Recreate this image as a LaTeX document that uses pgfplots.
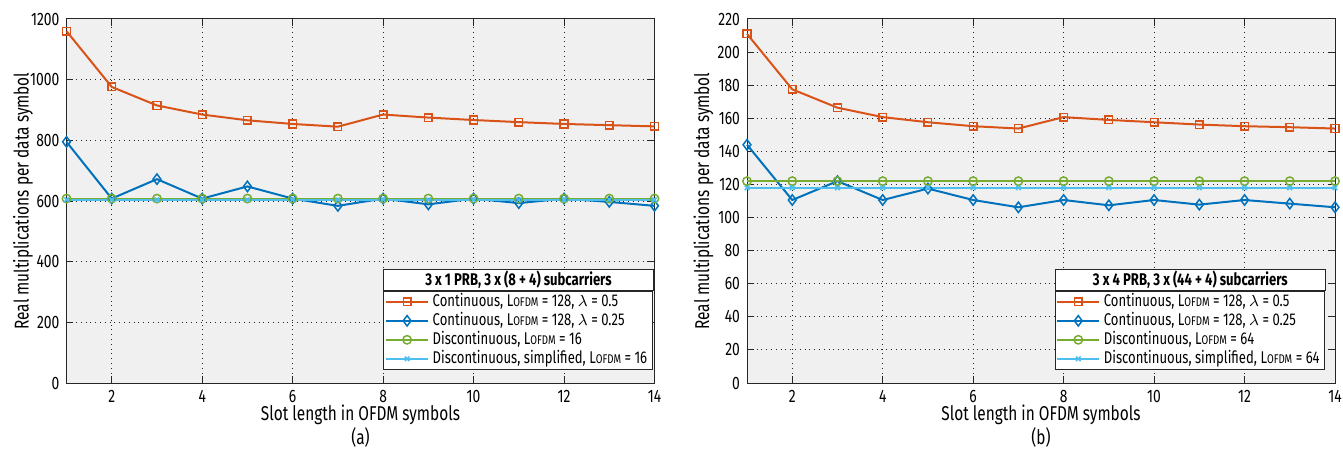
\documentclass[border=0pt]{standalone}
\usepackage{pgfplots}
\pgfplotsset{compat=1.18}
\usepackage{fontspec}
\setmainfont{Fira Sans}[FakeStretch=0.77]
\usetikzlibrary{calc}
\definecolor{mOrange}{rgb}{0.85,0.325,0.098}
\definecolor{mBlue}{rgb}{0,0.447,0.741}
\definecolor{mGreen}{rgb}{0.466,0.674,0.188}
\definecolor{mLight}{rgb}{0.301,0.745,0.933}
\definecolor{axgray}{rgb}{0.15,0.15,0.15}
\newcommand{\fs}{\fontsize{9}{11.2}\selectfont}
\newcommand{\fsl}{\fontsize{8.5}{10}\selectfont}
\newcommand{\Lofdm}{L{\fontsize{6.3}{6.3}\selectfont OFDM}}
\pgfplotsset{
  mstyle/.style={
    scale only axis, width=294pt, height=182pt,
    axis background/.style={fill=black!6},
    xmin=1, xmax=14, xtick={2,4,...,14},
    grid=major, major grid style={dotted, black!85, line width=0.5pt},
    axis line style={axgray, line width=0.5pt},
    tick style={axgray, line width=0.5pt},
    major tick length=3.5pt,
    tick align=inside,
    clip=false,
    /pgf/number format/assume math mode=true,
    /pgf/number format/set thousands separator={},
    tick label style={font=\fs},
    label style={font=\fs},
    every axis y label/.style={at={(rel axis cs:-0.074,0.5)}, rotate=90, anchor=center},
    every axis x label/.style={at={(rel axis cs:0.5,0)}, anchor=center, yshift=-21.5pt, align=center},
    legend cell align=left,
    legend style={at={(1,0)}, anchor=south east, yshift=6.5pt,
      draw=axgray, line width=0.5pt, font=\fsl, row sep=0pt, inner sep=0.6pt,
      nodes={text height=6.5pt, text depth=2.0pt, inner xsep=1.8pt, inner ysep=0.5pt}},
    legend image code/.code={\draw[mark repeat=2, mark phase=2, ##1] plot coordinates {(0pt,0pt)(10.5pt,0pt)(21pt,0pt)};},
    every axis plot/.append style={line width=1pt},
  },
  sOr/.style={mOrange, mark=square, mark size=1.9pt, mark options={solid, fill=white, line width=0.75pt}},
  sBl/.style={mBlue, mark=diamond, mark size=2.6pt, mark options={solid, fill=white, line width=0.75pt}},
  sGr/.style={mGreen, mark=o, mark size=2.1pt, mark options={solid, fill=white, line width=0.75pt}},
  sLb/.style={mLight, mark=x, mark size=1.6pt, mark options={solid, line width=0.75pt}},
}
\begin{document}
\begin{tikzpicture}
\useasboundingbox (-33.25pt,-33.5pt) rectangle (638.25pt,191.5pt);
\begin{axis}[mstyle, at={(0pt,0pt)},
  ymin=0, ymax=1200, ytick={0,200,...,1200},
  xlabel={Slot length in OFDM symbols\\(a)},
  ylabel={Real multiplications per data symbol},
  legend style={name=legA, xshift=-1pt}]
\addplot[sOr] coordinates {(1,1160)(2,976)(3,915)(4,885)(5,866)(6,854)(7,845)(8,885)(9,875)(10,867)(11,860)(12,854)(13,850)(14,846)};
\addlegendentry{Continuous, \Lofdm{} = 128, $\lambda$ = 0.5}
\addplot[sBl] coordinates {(1,795)(2,608)(3,672)(4,608)(5,648)(6,608)(7,584)(8,608)(9,589)(10,608)(11,593)(12,608)(13,597)(14,584)};
\addlegendentry{Continuous, \Lofdm{} = 128, $\lambda$ = 0.25}
\addplot[sGr] coordinates {(1,608)(2,608)(3,608)(4,608)(5,608)(6,608)(7,608)(8,608)(9,608)(10,608)(11,608)(12,608)(13,608)(14,608)};
\addlegendentry{Discontinuous, \Lofdm{} = 16}
\addplot[sLb] coordinates {(1,604)(2,604)(3,604)(4,604)(5,604)(6,604)(7,604)(8,604)(9,604)(10,604)(11,604)(12,604)(13,604)(14,604)};
\addlegendentry{Discontinuous, simplified, \Lofdm{} = 16}
\end{axis}
\begin{axis}[mstyle, at={(340.25pt,0pt)},
  ymin=0, ymax=220, ytick={0,20,...,220},
  xlabel={Slot length in OFDM symbols\\(b)},
  ylabel={Real multiplications per data symbol},
  legend style={name=legB, xshift=-5pt}]
\addplot[sOr] coordinates {(1,211)(2,177.5)(3,166.4)(4,160.7)(5,157.6)(6,155.2)(7,153.8)(8,160.7)(9,159)(10,157.6)(11,156.2)(12,155.2)(13,154.6)(14,153.8)};
\addlegendentry{Continuous, \Lofdm{} = 128, $\lambda$ = 0.5}
\addplot[sBl] coordinates {(1,144)(2,110.6)(3,122)(4,110.6)(5,117.5)(6,110.6)(7,106.2)(8,110.6)(9,107.4)(10,110.6)(11,107.8)(12,110.6)(13,108.4)(14,106.2)};
\addlegendentry{Continuous, \Lofdm{} = 128, $\lambda$ = 0.25}
\addplot[sGr] coordinates {(1,122)(2,122)(3,122)(4,122)(5,122)(6,122)(7,122)(8,122)(9,122)(10,122)(11,122)(12,122)(13,122)(14,122)};
\addlegendentry{Discontinuous, \Lofdm{} = 64}
\addplot[sLb] coordinates {(1,118)(2,118)(3,118)(4,118)(5,118)(6,118)(7,118)(8,118)(9,118)(10,118)(11,118)(12,118)(13,118)(14,118)};
\addlegendentry{Discontinuous, simplified, \Lofdm{} = 64}
\end{axis}
\path let \p1=(legA.north west), \p2=(legA.north east) in
  node[draw=axgray, line width=0.5pt, fill=white, anchor=south west, minimum width=\x2-\x1, minimum height=10.5pt, inner sep=0pt, font=\bfseries\fsl] at (legA.north west) {3 x 1 PRB, 3 x (8 + 4) subcarriers};
\path let \p1=(legB.north west), \p2=(legB.north east) in
  node[draw=axgray, line width=0.5pt, fill=white, anchor=south west, minimum width=\x2-\x1, minimum height=10.5pt, inner sep=0pt, font=\bfseries\fsl] at (legB.north west) {3 x 4 PRB, 3 x (44 + 4) subcarriers};
\end{tikzpicture}
\end{document}
